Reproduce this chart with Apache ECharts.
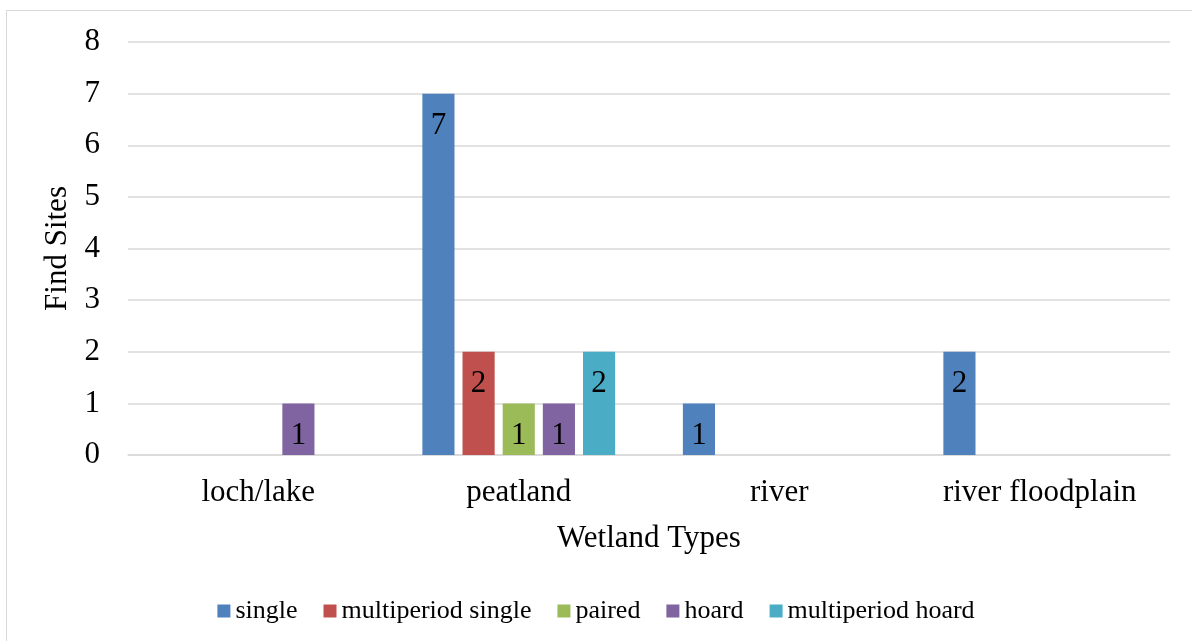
<!DOCTYPE html>
<html><head><meta charset="utf-8">
<script src="https://cdn.jsdelivr.net/npm/echarts@6/dist/echarts.min.js"></script>
<style>
html,body{margin:0;padding:0;background:#fff;}
#frame{position:absolute;left:6px;top:10px;width:1200px;height:650px;border:1.5px solid #d9d9d9;box-sizing:border-box;}
#c{position:absolute;left:0;top:0;width:1192px;height:641px;}
</style></head>
<body><div id="frame"></div><div id="c"></div>
<script>
const categories = ['loch/lake', 'peatland', 'river', 'river floodplain'];
const single = [0, 7, 1, 2];
const multiperiodSingle = [0, 2, 0, 0];
const paired = [0, 1, 0, 0];
const hoard = [1, 1, 0, 0];
const multiperiodHoard = [0, 2, 0, 0];
const seriesNames = ['single', 'multiperiod single', 'paired', 'hoard', 'multiperiod hoard'];
const colors = ['#4F81BD', '#C0504D', '#9BBB59', '#8064A2', '#4BACC6'];
const yTicks = [0, 1, 2, 3, 4, 5, 6, 7, 8];

const font = '"Liberation Serif", "Times New Roman", serif';
const chart = echarts.init(document.getElementById('c'));
const seriesData = [single, multiperiodSingle, paired, hoard, multiperiodHoard];
chart.setOption({
  animation: false,
  color: colors,
  textStyle: {fontFamily: font},
  grid: {left: 128, right: 22, top: 42, bottom: 186},
  legend: {
    bottom: 12, left: 'center', itemWidth: 13, itemHeight: 13, itemGap: 26,
    icon: 'rect',
    textStyle: {fontFamily: font, fontSize: 26, color: '#000', padding: [0, 0, 0, 0]},
    data: seriesNames
  },
  xAxis: {
    type: 'category', data: categories,
    name: 'Wetland Types', nameLocation: 'middle', nameGap: 68,
    nameTextStyle: {fontFamily: font, fontSize: 31, color: '#000'},
    axisLine: {lineStyle: {color: '#d9d9d9', width: 1.5}},
    axisTick: {show: false},
    axisLabel: {fontFamily: font, fontSize: 31, color: '#000', margin: 22}
  },
  yAxis: {
    type: 'value', min: yTicks[0], max: yTicks[yTicks.length - 1], interval: 1,
    name: 'Find Sites', nameLocation: 'middle', nameGap: 50, nameRotate: 90,
    nameTextStyle: {fontFamily: font, fontSize: 31, color: '#000'},
    axisLine: {show: false}, axisTick: {show: false},
    axisLabel: {fontFamily: font, fontSize: 31, color: '#000', margin: 28},
    splitLine: {lineStyle: {color: '#d9d9d9', width: 1.5}}
  },
  series: seriesNames.map((n, i) => ({
    name: n, type: 'bar', data: seriesData[i],
    barGap: '25%', barCategoryGap: '26%',
    label: {
      show: true, position: 'insideTop', distance: 17,
      fontFamily: font, fontSize: 31, color: '#000',
      formatter: p => p.value ? String(p.value) : ''
    }
  }))
});
</script></body></html>
